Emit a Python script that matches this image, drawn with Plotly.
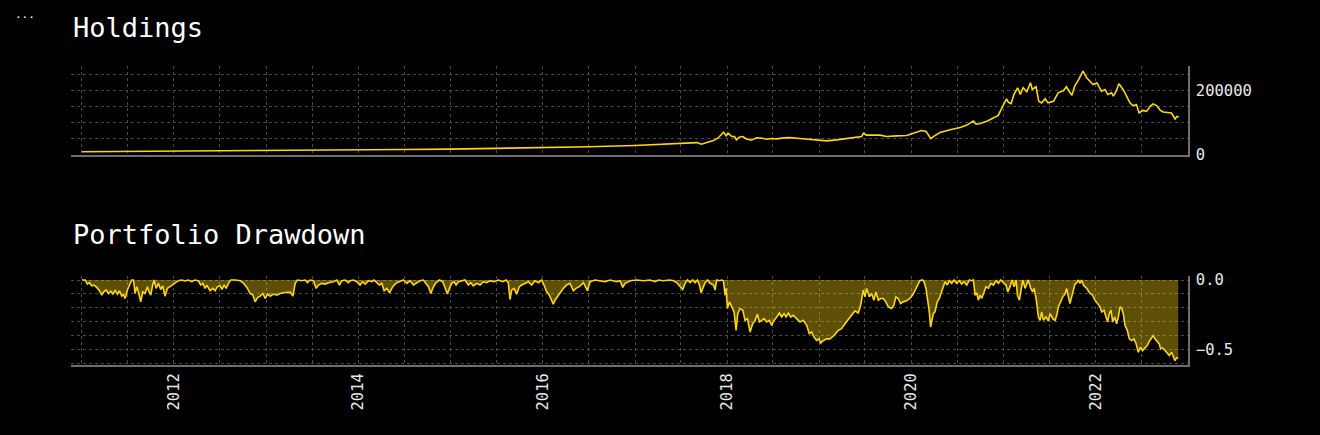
import datetime as dt
import plotly.graph_objects as go

# ---------------- data ----------------
holdings_year = [
    2011.00, 2011.50, 2012.00, 2012.50, 2013.00, 2013.50, 2014.00, 2014.50, 2015.00, 2015.50,
    2016.00, 2016.50, 2017.00, 2017.49, 2017.67, 2017.72, 2017.85, 2017.90, 2017.96, 2017.99,
    2018.01, 2018.05, 2018.08, 2018.10, 2018.13, 2018.17, 2018.21, 2018.26, 2018.32, 2018.38,
    2018.43, 2018.48, 2018.54, 2018.61, 2018.68, 2018.79, 2018.94, 2019.08, 2019.19, 2019.30,
    2019.41, 2019.46, 2019.48, 2019.51, 2019.66, 2019.73, 2019.84, 2019.95, 2020.02, 2020.11,
    2020.16, 2020.21, 2020.25, 2020.31, 2020.42, 2020.53, 2020.60, 2020.67, 2020.70, 2020.74,
    2020.83, 2020.91, 2020.94, 2020.98, 2021.03, 2021.05, 2021.08, 2021.11, 2021.15, 2021.18,
    2021.21, 2021.25, 2021.29, 2021.31, 2021.35, 2021.38, 2021.41, 2021.45, 2021.48, 2021.54,
    2021.59, 2021.65, 2021.68, 2021.72, 2021.74, 2021.77, 2021.81, 2021.86, 2021.90, 2021.94,
    2021.97, 2022.01, 2022.06, 2022.10, 2022.13, 2022.17, 2022.19, 2022.22, 2022.25, 2022.30,
    2022.33, 2022.37, 2022.40, 2022.44, 2022.47, 2022.51, 2022.55, 2022.59, 2022.62, 2022.66,
    2022.70, 2022.73, 2022.82, 2022.86, 2022.88, 2022.90,
]
holdings_value = [
    8200, 8900, 9700, 10500, 11400, 12400, 13500, 14800, 16300, 18000,
    20500, 23500, 27500, 34600, 36500, 31500, 42800, 50300, 69200, 57600,
    66000, 55400, 55400, 45000, 53500, 55400, 48100, 44000, 51300, 50300,
    47200, 49100, 48100, 51300, 52200, 49100, 45000, 41800, 45000, 49100,
    53500, 55400, 66000, 59800, 59800, 55400, 57600, 58500, 66000, 74200,
    71100, 49100, 57600, 67900, 76400, 83700, 91200, 103800, 94400, 95300,
    104700, 116400, 121400, 144700, 173000, 162300, 158200, 186500, 207600, 186500,
    207600, 195000, 223300, 202200, 210700, 165400, 160400, 173000, 160400, 165400,
    191800, 199100, 210700, 191800, 184300, 212600, 231500, 259800, 239000, 226400,
    217900, 223300, 196900, 202200, 186500, 191800, 181200, 196900, 220200, 200000,
    183400, 160400, 151900, 155000, 128900, 137100, 134000, 149700, 157300, 151900,
    137100, 132100, 128900, 110100, 118300, 116400,
]

drawdown_year = [
    2011.000, 2011.036, 2011.061, 2011.083, 2011.108, 2011.133, 2011.162, 2011.191, 2011.216, 2011.235,
    2011.263, 2011.289, 2011.314, 2011.336, 2011.361, 2011.386, 2011.408, 2011.433, 2011.451, 2011.469,
    2011.495, 2011.516, 2011.542, 2011.560, 2011.578, 2011.596, 2011.614, 2011.639, 2011.661, 2011.686,
    2011.712, 2011.730, 2011.748, 2011.769, 2011.784, 2011.806, 2011.831, 2011.856, 2011.878, 2011.903,
    2011.929, 2011.958, 2011.994, 2012.023, 2012.048, 2012.084, 2012.120, 2012.156, 2012.192, 2012.229,
    2012.265, 2012.290, 2012.312, 2012.337, 2012.355, 2012.391, 2012.420, 2012.446, 2012.471, 2012.500,
    2012.521, 2012.543, 2012.565, 2012.590, 2012.615, 2012.662, 2012.717, 2012.753, 2012.789, 2012.825,
    2012.854, 2012.879, 2012.905, 2012.934, 2012.962, 2012.988, 2013.013, 2013.042, 2013.078, 2013.114,
    2013.150, 2013.187, 2013.223, 2013.259, 2013.288, 2013.313, 2013.338, 2013.385, 2013.422, 2013.447,
    2013.476, 2013.512, 2013.541, 2013.566, 2013.602, 2013.639, 2013.675, 2013.729, 2013.765, 2013.794,
    2013.819, 2013.855, 2013.891,
    2013.910, 2013.946, 2013.982, 2014.018, 2014.047, 2014.073, 2014.109, 2014.145, 2014.170, 2014.199,
    2014.228, 2014.253, 2014.279, 2014.308, 2014.337, 2014.362, 2014.387, 2014.416, 2014.452, 2014.488,
    2014.525, 2014.561, 2014.597, 2014.633, 2014.669, 2014.705, 2014.734, 2014.760, 2014.785, 2014.814,
    2014.843, 2014.879, 2014.915, 2014.940, 2014.966, 2014.987, 2015.013, 2015.038, 2015.060, 2015.085,
    2015.121, 2015.157, 2015.193, 2015.219, 2015.248, 2015.284, 2015.320, 2015.356, 2015.392, 2015.428,
    2015.472, 2015.519, 2015.566, 2015.602, 2015.627, 2015.645, 2015.663, 2015.689, 2015.718, 2015.746,
    2015.772, 2015.808, 2015.844, 2015.880, 2015.916, 2015.953, 2015.989, 2016.014, 2016.043, 2016.072,
    2016.097, 2016.115, 2016.133, 2016.159, 2016.188, 2016.224, 2016.260, 2016.296, 2016.332, 2016.361,
    2016.397, 2016.441, 2016.484, 2016.513, 2016.567, 2016.621, 2016.675, 2016.730, 2016.802, 2016.838,
    2016.867, 2016.892,
    2016.947, 2017.019, 2017.092, 2017.164, 2017.218, 2017.254, 2017.308, 2017.374, 2017.417, 2017.453,
    2017.489, 2017.518, 2017.543, 2017.569, 2017.598, 2017.627, 2017.652, 2017.677, 2017.699, 2017.717,
    2017.735, 2017.760, 2017.786, 2017.815, 2017.851, 2017.869, 2017.887, 2017.916, 2017.941, 2017.959,
    2017.977, 2017.988, 2018.003, 2018.024, 2018.050, 2018.075, 2018.097, 2018.115, 2018.140, 2018.169,
    2018.194, 2018.220, 2018.249, 2018.277, 2018.303, 2018.328, 2018.350, 2018.375, 2018.400, 2018.429,
    2018.458, 2018.483, 2018.509, 2018.538, 2018.567, 2018.592, 2018.617, 2018.639, 2018.664, 2018.690,
    2018.718, 2018.754, 2018.791, 2018.827, 2018.863, 2018.892, 2018.917, 2018.943, 2018.971, 2018.997,
    2019.015, 2019.044, 2019.080, 2019.116, 2019.159, 2019.206, 2019.242, 2019.279, 2019.315, 2019.351,
    2019.387, 2019.423, 2019.449, 2019.477, 2019.496, 2019.514, 2019.543, 2019.568, 2019.593, 2019.615,
    2019.640, 2019.666, 2019.694, 2019.723, 2019.749, 2019.785, 2019.810, 2019.832, 2019.857, 2019.882,
    2019.911, 2019.947,
    2019.984, 2020.020, 2020.056, 2020.092, 2020.121, 2020.136, 2020.158, 2020.183, 2020.194, 2020.208,
    2020.219, 2020.237, 2020.255, 2020.280, 2020.302, 2020.327, 2020.345, 2020.364, 2020.389, 2020.411,
    2020.436, 2020.461, 2020.490, 2020.519, 2020.544, 2020.570, 2020.599, 2020.627, 2020.653, 2020.671,
    2020.689, 2020.707, 2020.725, 2020.743, 2020.761, 2020.787, 2020.808, 2020.834, 2020.859, 2020.888,
    2020.917, 2020.942, 2020.967, 2020.996, 2021.025, 2021.043, 2021.069, 2021.090, 2021.112, 2021.134,
    2021.148, 2021.170, 2021.188, 2021.206, 2021.231, 2021.249, 2021.267, 2021.293, 2021.314, 2021.329,
    2021.351, 2021.376, 2021.394, 2021.412, 2021.430, 2021.459, 2021.484, 2021.503, 2021.531, 2021.557,
    2021.575, 2021.593, 2021.618, 2021.640, 2021.665, 2021.683, 2021.701, 2021.719, 2021.737, 2021.755,
    2021.773, 2021.792, 2021.810, 2021.828, 2021.846, 2021.864, 2021.900, 2021.936, 2021.965, 2021.990,
    2022.016, 2022.045, 2022.063, 2022.088, 2022.110, 2022.128, 2022.146, 2022.164, 2022.182, 2022.204,
    2022.225, 2022.244, 2022.262, 2022.280, 2022.298, 2022.316, 2022.341, 2022.363, 2022.388, 2022.413,
    2022.435, 2022.460, 2022.486, 2022.507, 2022.533, 2022.558, 2022.580, 2022.605, 2022.623, 2022.641,
    2022.666, 2022.688, 2022.703, 2022.725, 2022.750, 2022.775, 2022.797, 2022.822, 2022.840, 2022.858,
    2022.876, 2022.894,
]
drawdown_value = [
    0, 0, -0.029, -0.019, -0.041, -0.036, -0.053, -0.077, -0.109, -0.087,
    -0.072, -0.097, -0.080, -0.101, -0.072, -0.101, -0.077, -0.116, -0.104, -0.133,
    -0.072, -0.036, 0, 0, -0.097, -0.048, -0.085, -0.157, -0.085, -0.097,
    -0.048, -0.085, -0.109, -0.036, 0, -0.060, -0.024, -0.068, -0.043, -0.116,
    -0.060, -0.048, -0.029, -0.012, -0.005, 0, -0.007, 0, -0.012, 0,
    -0.007, -0.036, -0.024, -0.060, -0.036, -0.077, -0.060, -0.077, -0.048, -0.043,
    -0.068, -0.036, -0.060, -0.024, 0, 0, -0.005, -0.024, -0.053, -0.097,
    -0.109, -0.157, -0.126, -0.116, -0.097, -0.133, -0.101, -0.116, -0.101, -0.109,
    -0.097, -0.092, -0.087, -0.087, -0.116, -0.024, 0, -0.005, 0, -0.019,
    0, -0.005, -0.060, -0.036, -0.024, -0.029, -0.019, -0.012, 0, -0.036,
    -0.005, 0, -0.019,
    -0.005, 0, -0.012, -0.036, -0.012, -0.029, -0.005, -0.012, 0, -0.019,
    -0.036, -0.024, -0.077, -0.060, -0.092, -0.060, -0.036, -0.019, -0.012, 0,
    -0.024, -0.005, -0.036, -0.019, -0.005, 0, -0.024, -0.048, -0.097, -0.048,
    -0.019, 0, -0.012, -0.060, -0.101, -0.060, -0.024, -0.012, -0.036, -0.012,
    -0.005, 0, -0.036, -0.019, -0.043, -0.024, -0.036, -0.012, -0.019, -0.005,
    -0.012, 0, -0.012, 0, -0.019, -0.140, -0.072, -0.060, -0.101, -0.048,
    -0.036, -0.024, -0.012, -0.036, -0.005, -0.019, 0, -0.036, -0.085, -0.109,
    -0.145, -0.174, -0.145, -0.121, -0.097, -0.060, -0.036, -0.024, -0.077, -0.060,
    -0.048, -0.019, -0.077, -0.012, 0, -0.005, -0.012, 0, -0.012, -0.005,
    -0.053, -0.024,
    -0.005, 0, -0.005, 0, -0.012, 0, -0.005, 0, -0.005, -0.019,
    -0.043, -0.068, -0.024, 0, -0.019, 0, -0.019, 0, -0.036, -0.092,
    -0.060, -0.019, 0, -0.024, -0.036, -0.072, 0, -0.005, 0, -0.005,
    -0.109, -0.060, -0.205, -0.157, -0.193, -0.229, -0.362, -0.242, -0.205, -0.217,
    -0.290, -0.278, -0.374, -0.314, -0.290, -0.246, -0.302, -0.290, -0.278, -0.302,
    -0.290, -0.326, -0.290, -0.266, -0.237, -0.266, -0.242, -0.266, -0.237, -0.266,
    -0.254, -0.278, -0.302, -0.290, -0.326, -0.386, -0.374, -0.411, -0.435, -0.423,
    -0.454, -0.435, -0.423, -0.423, -0.399, -0.362, -0.350, -0.314, -0.285, -0.254,
    -0.222, -0.237, -0.181, -0.072, -0.121, -0.060, -0.121, -0.097, -0.145, -0.085,
    -0.145, -0.133, -0.133, -0.157, -0.193, -0.205, -0.181, -0.121, -0.133, -0.169,
    -0.157, -0.150,
    -0.133, -0.101, -0.048, -0.005, 0, -0.012, -0.060, -0.169, -0.229, -0.338,
    -0.302, -0.242, -0.229, -0.157, -0.133, -0.085, -0.036, -0.012, -0.036, -0.005,
    -0.024, 0, -0.024, -0.005, -0.029, -0.012, -0.036, 0, -0.005, 0,
    -0.109, -0.092, -0.145, -0.109, -0.133, -0.085, -0.048, -0.060, -0.024, -0.036,
    -0.005, -0.024, 0, -0.019, -0.036, -0.085, -0.048, 0, -0.048, 0,
    -0.109, -0.145, -0.072, 0, -0.060, -0.024, 0, -0.060, -0.085, -0.060,
    -0.133, -0.266, -0.290, -0.229, -0.290, -0.266, -0.295, -0.242, -0.278, -0.290,
    -0.254, -0.193, -0.157, -0.121, -0.101, -0.060, -0.121, -0.169, -0.121, -0.072,
    -0.029, -0.019, 0, -0.024, 0, -0.036, -0.060, -0.097, -0.109, -0.145,
    -0.169, -0.193, -0.229, -0.217, -0.266, -0.302, -0.242, -0.217, -0.302, -0.266,
    -0.314, -0.266, -0.193, -0.205, -0.242, -0.326, -0.362, -0.423, -0.435, -0.423,
    -0.454, -0.519, -0.483, -0.507, -0.488, -0.471, -0.440, -0.411, -0.399, -0.423,
    -0.447, -0.459, -0.495, -0.488, -0.507, -0.527, -0.543, -0.519, -0.556, -0.580,
    -0.560, -0.560,
]

titles = ["Holdings", "Portfolio Drawdown"]


def to_date(y):
    year = int(y)
    start = dt.datetime(year, 1, 1)
    end = dt.datetime(year + 1, 1, 1)
    return start + (end - start) * (y - year)


h_x = [to_date(v) for v in holdings_year]
d_x = [to_date(v) for v in drawdown_year]

LINE = "#FFD50F"
FONT = "DejaVu Sans Mono"
GRID = "#4a4a4a"
AXLINE = "#6e6e6e"

fig = go.Figure()
fig.add_trace(go.Scatter(x=h_x, y=holdings_value, mode="lines",
                         line=dict(color=LINE, width=1.6), xaxis="x", yaxis="y",
                         showlegend=False))
fig.add_trace(go.Scatter(x=d_x, y=drawdown_value, mode="lines", fill="tozeroy",
                         fillcolor="rgba(255,213,15,0.37)",
                         line=dict(color=LINE, width=1.6), xaxis="x2", yaxis="y2",
                         showlegend=False))

xcommon = dict(
    type="date", range=["2010-11-19", "2023-01-01"],
    dtick="M24", tick0="2012-01-01", tickformat="%Y",
    showgrid=True, gridcolor=GRID, griddash="dot", gridwidth=1,
    minor=dict(dtick="M6", showgrid=True, gridcolor=GRID, griddash="dot", gridwidth=1),
    showline=True, linecolor=AXLINE, linewidth=2, zeroline=False,
    automargin=False, ticks="",
    tickfont=dict(family=FONT, size=15.5, color="#e8e8e8"),
)
ycommon = dict(
    side="right", showgrid=True, gridcolor=GRID, griddash="dot", gridwidth=1,
    showline=True, linecolor=AXLINE, linewidth=1.5, zeroline=False,
    automargin=False, ticks="", ticklabelstandoff=3,
    tickfont=dict(family=FONT, size=15.5, color="#e8e8e8"),
)

fig.update_layout(
    width=1320, height=435,
    paper_bgcolor="black", plot_bgcolor="black",
    margin=dict(l=71, r=132, t=66, b=70),
    xaxis=dict(xcommon, anchor="y", showticklabels=False),
    xaxis2=dict(xcommon, anchor="y2", matches="x", tickangle=-90),
    yaxis=dict(ycommon, domain=[0.7023, 1.0], range=[-2200, 275500],
               dtick=200000, tick0=0, tickformat="d",
               minor=dict(dtick=50000, showgrid=True, gridcolor=GRID, griddash="dot")),
    yaxis2=dict(ycommon, domain=[0.0, 0.2977], range=[-0.611, 0.029],
                dtick=0.5, tick0=0, tickformat=".1f",
                minor=dict(dtick=0.1, showgrid=True, gridcolor=GRID, griddash="dot")),
    annotations=[
        dict(text=titles[0], xref="paper", yref="paper", x=0, y=1.1304,
             xanchor="left", yanchor="middle", showarrow=False,
             font=dict(family=FONT, size=27, color="white")),
        dict(text=titles[1], xref="paper", yref="paper", x=0, y=0.4348,
             xanchor="left", yanchor="middle", showarrow=False,
             font=dict(family=FONT, size=27, color="white")),
        dict(text="...", xref="paper", yref="paper", x=-0.0412, y=1.172,
             xanchor="center", yanchor="middle", showarrow=False,
             font=dict(family=FONT, size=11, color="white")),
    ],
)

fig.write_html(
    "out.html",
    config={"displayModeBar": False},
    post_script="document.body.style.margin='0';document.body.style.background='black';",
)
